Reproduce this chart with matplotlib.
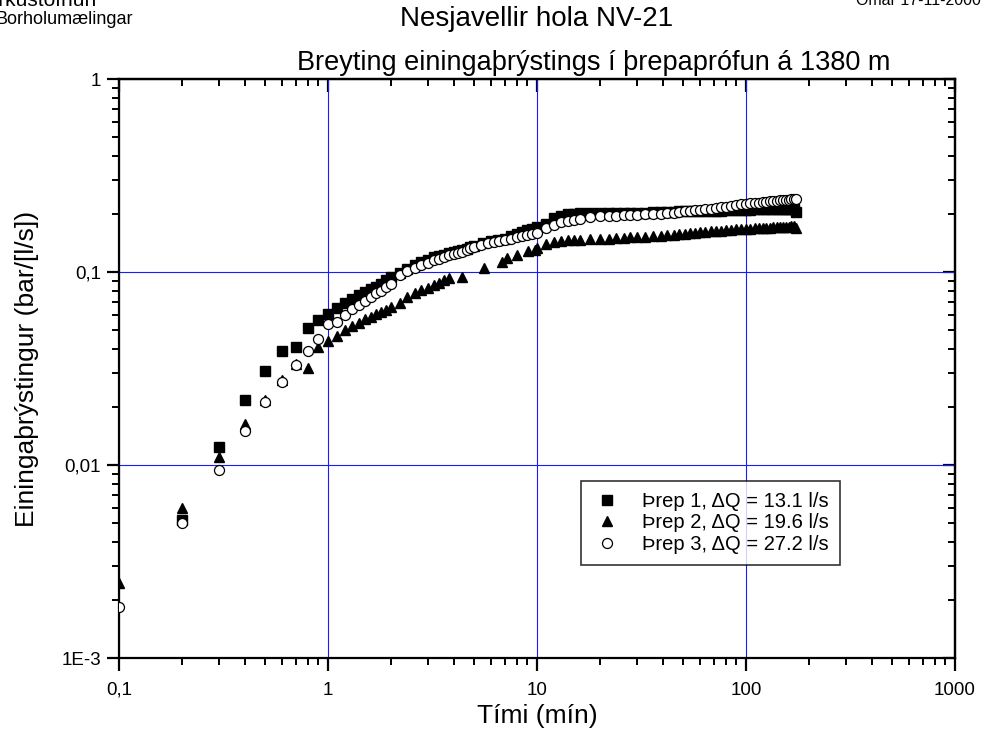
#!/usr/bin/env python
# Nesjavellir hola NV-21 - unit pressure change in step test at 1380 m
import numpy as np
import matplotlib
matplotlib.use('Agg')
import matplotlib.pyplot as plt
from matplotlib.ticker import FuncFormatter, LogLocator, NullFormatter

plt.rcParams['font.family'] = ['Liberation Sans', 'DejaVu Sans']

# Þrep 1 (squares)
t1 = [0.2, 0.3, 0.4, 0.5, 0.6, 0.7, 0.8, 0.9, 1.0, 1.1, 1.2, 1.3, 1.4, 1.5, 1.6, 1.7, 1.8, 1.9, 2.0,
      2.2, 2.4, 2.6, 2.8, 3.0, 3.2, 3.4, 3.6, 3.8, 4.0, 4.2, 4.4, 4.6, 4.8, 5.0, 5.5, 6.0, 6.5, 7.0,
      7.5, 8.0, 8.5, 9.0, 9.5, 10,
      11, 12, 13, 14, 15, 16, 18, 20, 22, 24, 26, 28, 30, 33, 36, 39, 42, 45, 48, 51, 54, 57, 60,
      64, 68, 72, 76, 80, 85, 90, 95, 100, 105, 110, 115, 120, 125, 130, 135, 140, 145, 150, 155,
      160, 165, 170, 173]
p1 = [0.0052, 0.0124, 0.0217, 0.0308, 0.0392, 0.041, 0.0514, 0.0564, 0.0604, 0.0649, 0.0689, 0.0722,
      0.076, 0.079, 0.0815, 0.084, 0.087, 0.091, 0.094,
      0.099, 0.104, 0.109, 0.113, 0.116, 0.119, 0.121, 0.123, 0.125, 0.127, 0.129, 0.130, 0.132,
      0.135, 0.137, 0.141, 0.144, 0.146, 0.149, 0.153, 0.158, 0.162, 0.165, 0.168, 0.171,
      0.178, 0.190, 0.196, 0.199, 0.201, 0.202, 0.203, 0.203, 0.203, 0.203, 0.203, 0.203, 0.203,
      0.203, 0.204, 0.204, 0.205, 0.205, 0.206, 0.206, 0.206, 0.207, 0.207,
      0.207, 0.208, 0.208, 0.208, 0.209, 0.209, 0.209, 0.210, 0.210, 0.210, 0.211, 0.211, 0.211,
      0.211, 0.212, 0.212, 0.212, 0.212, 0.212, 0.213, 0.213, 0.213, 0.213, 0.205]

# Þrep 2 (triangles)
t2 = [0.1, 0.2, 0.3, 0.4, 0.5, 0.6, 0.7, 0.8, 0.9, 1.0, 1.1, 1.2, 1.3, 1.4, 1.5, 1.6, 1.7, 1.8, 1.9,
      2.0, 2.2, 2.4, 2.6, 2.8, 3.0, 3.2, 3.4, 3.6, 3.8, 4.4, 5.6, 6.8, 7.2, 8.0, 9.1, 9.8,
      10, 11, 12, 13, 14, 15, 16, 18, 20, 22, 24, 26, 28, 30, 33, 36, 39, 42, 45, 48, 51, 54, 57, 60,
      64, 68, 72, 76, 80, 85, 90, 95, 100, 105, 110, 115, 120, 125, 130, 135, 140, 145, 150, 155,
      160, 165, 170, 173]
p2 = [0.00245, 0.0060, 0.0110, 0.0163, 0.0217, 0.0276, 0.0335, 0.0317, 0.0407, 0.0441, 0.0466, 0.050,
      0.0525, 0.0547, 0.0569, 0.0587, 0.0606, 0.0623, 0.0636,
      0.066, 0.069, 0.074, 0.078, 0.081, 0.083, 0.086, 0.088, 0.091, 0.093, 0.0946, 0.1045, 0.113,
      0.118, 0.1225, 0.129, 0.130,
      0.133, 0.140, 0.143, 0.145, 0.146, 0.147, 0.147, 0.148, 0.149, 0.149, 0.150, 0.150, 0.151,
      0.151, 0.152, 0.153, 0.154, 0.155, 0.156, 0.157, 0.158, 0.159, 0.160, 0.161,
      0.162, 0.163, 0.163, 0.164, 0.165, 0.166, 0.167, 0.167, 0.168, 0.168, 0.169, 0.169, 0.170,
      0.170, 0.170, 0.171, 0.171, 0.171, 0.172, 0.172, 0.172, 0.173, 0.173, 0.170]

# Þrep 3 (open circles)
t3 = [0.1, 0.2, 0.3, 0.4, 0.5, 0.6, 0.7, 0.8, 0.9, 1.0, 1.1, 1.2, 1.3, 1.4, 1.5, 1.6, 1.7, 1.8, 1.9,
      2.0, 2.2, 2.4, 2.6, 2.8, 3.0, 3.2, 3.4, 3.6, 3.8, 4.0, 4.2, 4.4, 4.6, 4.8, 5.0, 5.4, 5.8, 6.2,
      6.6, 7.0, 7.5, 8.0, 8.5, 9.0, 9.5, 10,
      11, 12, 13, 14, 15, 16, 18, 20, 22, 24, 26, 28, 30, 33, 36, 39, 42, 45, 48, 51, 54, 57, 60,
      64, 68, 72, 76, 80, 85, 90, 95, 100, 105, 110, 115, 120, 125, 130, 135, 140, 145, 150, 155,
      160, 165, 170, 173]
p3 = [0.00184, 0.0050, 0.0094, 0.0150, 0.0213, 0.0270, 0.0330, 0.0390, 0.0448, 0.0538, 0.0553, 0.0598,
      0.0641, 0.0675, 0.071, 0.0745, 0.0775, 0.080, 0.084,
      0.0871, 0.097, 0.101, 0.105, 0.109, 0.112, 0.115, 0.117, 0.120, 0.122, 0.124, 0.126, 0.127,
      0.130, 0.133, 0.135, 0.138, 0.141, 0.143, 0.145, 0.147, 0.149, 0.151, 0.153, 0.155, 0.158, 0.160,
      0.170, 0.176, 0.181, 0.184, 0.187, 0.189, 0.192, 0.194, 0.195, 0.196, 0.197, 0.197, 0.198,
      0.199, 0.200, 0.201, 0.202, 0.203, 0.205, 0.206, 0.208, 0.209, 0.210,
      0.212, 0.213, 0.215, 0.217, 0.218, 0.220, 0.222, 0.224, 0.226, 0.227, 0.228, 0.229, 0.230,
      0.231, 0.232, 0.233, 0.234, 0.235, 0.236, 0.237, 0.237, 0.238, 0.238, 0.239]

labels = ['Þrep 1, \u0394Q = 13.1 l/s', 'Þrep 2, \u0394Q = 19.6 l/s', 'Þrep 3, \u0394Q = 27.2 l/s']
xtick_vals = [0.1, 1, 10, 100, 1000]
xtick_text = ['0,1', '1', '10', '100', '1000']
ytick_vals = [0.001, 0.01, 0.1, 1]
ytick_text = ['1E-3', '0,01', '0,1', '1']

fig = plt.figure(figsize=(9.82, 7.4), dpi=100)
ax = fig.add_axes([0.1212, 0.1108, 0.8513, 0.7824])

ax.plot(t1, p1, 's', color='black', ms=6.5, label=labels[0], zorder=3)
ax.plot(t2, p2, '^', color='black', ms=7.8, label=labels[1], zorder=3)
ax.plot(t3, p3, 'o', mfc='white', mec='black', mew=0.9, ms=7.2, label=labels[2], zorder=3)

ax.set_xscale('log')
ax.set_yscale('log')
ax.set_xlim(0.1, 1000)
ax.set_ylim(0.001, 1)

ax.set_xticks(xtick_vals)
ax.set_yticks(ytick_vals)
ax.xaxis.set_major_formatter(FuncFormatter(lambda v, p: dict(zip(xtick_vals, xtick_text)).get(v, '')))
ax.yaxis.set_major_formatter(FuncFormatter(lambda v, p: dict(zip(ytick_vals, ytick_text)).get(v, '')))
ax.xaxis.set_minor_locator(LogLocator(base=10, subs=np.arange(2, 10)))
ax.yaxis.set_minor_locator(LogLocator(base=10, subs=np.arange(2, 10)))
ax.xaxis.set_minor_formatter(NullFormatter())
ax.yaxis.set_minor_formatter(NullFormatter())

ax.grid(True, which='major', color='#1a1aff', lw=0.8)
ax.set_axisbelow(True)
for s in ax.spines.values():
    s.set_linewidth(1.6)
ax.tick_params(which='major', direction='out', length=9, width=1.6, labelsize=13.5)
ax.tick_params(axis='x', which='major', pad=8)
ax.tick_params(axis='y', which='major', pad=4)
ax.tick_params(which='minor', direction='out', length=5, width=1.4)

# top and right axes: ticks pointing inward, no labels
top = ax.secondary_xaxis('top')
top.set_xticks(xtick_vals)
top.xaxis.set_minor_locator(LogLocator(base=10, subs=np.arange(2, 10)))
top.tick_params(which='major', direction='in', length=9, width=1.6, labeltop=False)
top.tick_params(which='minor', direction='in', length=5, width=1.4, labeltop=False)
top.xaxis.set_minor_formatter(NullFormatter())
right = ax.secondary_yaxis('right')
right.set_yticks(ytick_vals)
right.yaxis.set_minor_locator(LogLocator(base=10, subs=np.arange(2, 10)))
right.tick_params(which='major', direction='in', length=9, width=1.6, labelright=False)
right.tick_params(which='minor', direction='in', length=5, width=1.4, labelright=False)
right.yaxis.set_minor_formatter(NullFormatter())
for sec in (top, right):
    for s in sec.spines.values():
        s.set_linewidth(1.6)

ax.set_xlabel('Tími (mín)', fontsize=19, labelpad=4)
ax.set_ylabel('Einingaþrýstingur (bar/[l/s])', fontsize=19, labelpad=16)

fig.text(537 / 982, 1 - 19 / 740, 'Nesjavellir hola NV-21', ha='center', va='center', fontsize=20)
fig.text(594 / 982, 1 - 63 / 740, 'Breyting einingaþrýstings í þrepaprófun á 1380 m',
         ha='center', va='center', fontsize=19.5)
fig.text(96 / 982, 1 - 6 / 740, 'Orkustofnun', ha='right', va='baseline', fontsize=15)
fig.text(133 / 982, 1 - 24 / 740, 'Borholumælingar', ha='right', va='baseline', fontsize=13)
fig.text(981 / 982, 1 - 5 / 740, 'Ómar 17-11-2000', ha='right', va='baseline', fontsize=11.5)

leg = ax.legend(loc='upper left', bbox_to_anchor=(581 / 982, 1 - 481 / 740),
                bbox_transform=fig.transFigure, fontsize=14.5, frameon=True, fancybox=False,
                edgecolor='black', borderpad=0.55, borderaxespad=0, handletextpad=1.0,
                labelspacing=0.12, handlelength=1.5)
leg.get_frame().set_linewidth(1.2)

fig.savefig('out.png', dpi=100)
